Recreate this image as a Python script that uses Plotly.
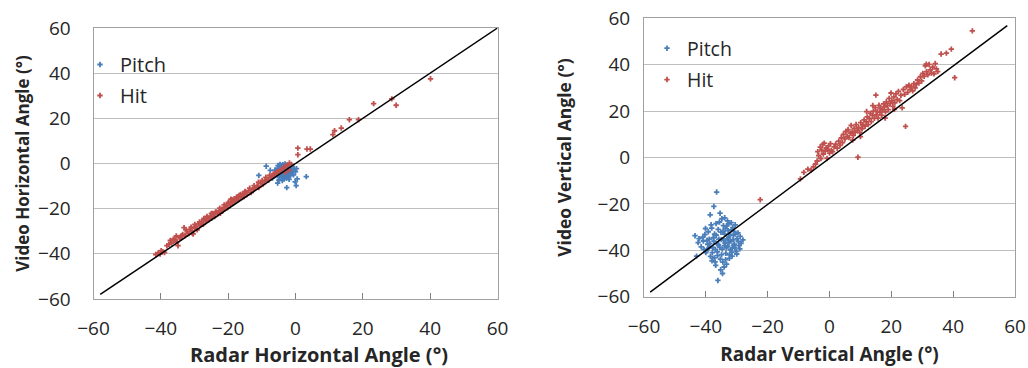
import plotly.graph_objects as go

# ---------------- Left chart: horizontal angle ----------------
H_PITCH_X = [-4.2, -3.8, -3.1, -2.6, -4.8, -5.3, -4.5, -3.9, -3.3, -2.8, -2.2, -1.7, -1.4, -2.0, -2.6,
             -3.2, -3.7, -4.3, -4.9, -5.6, -6.1, -5.8, -5.0, -4.4, -3.8, -3.1, -2.5, -1.9, -1.3, -0.8,
             -0.6, -1.5, -2.3, -3.0, -3.6, -4.1, -4.7, -5.4, -6.0, -3.4, -2.7, -1.9, -4.9, -3.9, -3.5,
             -2.9, -4.6, -5.2, -1.1, -0.4, -3.6, -2.4, -4.0, -2.1, -8.7, -10.9, -5.3, -2.6, 0.2, 3.2,
             0.5, 0.0, -6.8, -7.5, 0.3, -0.1]
H_PITCH_Y = [-1.0, -0.5, -0.2, -0.8, -1.6, -2.2, -2.6, -2.0, -1.5, -2.1, -1.7, -2.5, -3.1, -3.4, -3.0,
             -2.8, -3.3, -3.7, -3.1, -3.5, -2.9, -4.3, -4.6, -4.9, -4.2, -4.5, -4.1, -4.6, -4.2, -3.6,
             -5.0, -5.4, -5.6, -5.9, -5.3, -6.2, -5.8, -5.5, -5.1, -6.8, -6.5, -7.0, -7.3, -7.6, -0.9,
             -3.6, -0.4, -0.9, -1.3, -2.2, -2.3, -2.4, -5.0, -5.1, -1.2, -5.3, -8.7, -10.7, -9.8, -5.8,
             -6.8, -3.6, -6.4, -3.0, -2.3, -8.1]

H_HIT_X = [-41.5, -40.8, -40.2, -39.5, -38.9, -37.6, -37.2, -36.8, -36.3, -35.7, -35.2, -34.9, -34.5,
           -34.0, -33.5, -33.1, -32.8, -32.2, -31.7, -31.3, -30.8, -30.4, -30.0, -29.6, -29.2, -28.8,
           -28.3, -27.9, -27.4, -27.0, -26.6, -26.1, -25.7, -25.3, -24.9, -24.4, -24.0, -23.6, -23.1,
           -22.7, -22.3, -21.9, -21.5, -21.0, -20.6, -20.2, -19.8, -19.4, -19.0, -18.6, -18.2, -17.8,
           -17.3, -16.9, -16.5, -16.1, -15.7, -15.3, -14.9, -14.4, -13.9, -13.2, -12.6, -12.0, -11.4,
           -10.9, -10.3, -9.7, -9.1, -8.6, -8.0, -7.4, -6.9, -6.3, -5.8, -5.2, -4.6, -4.0, -3.4, -2.9,
           -2.3, -1.8, -1.2, -2.0, -3.0, 0.7, 0.7, 3.4, 4.4, 11.1, 11.6, 13.6, 16.0, 18.7, 23.2, 28.6,
           29.9, 40.1,
           -39.9, -38.2, -36.0, -35.4, -33.8, -32.5, -31.0, -29.9, -28.5, -27.2, -26.3, -25.0, -23.8,
           -22.5, -21.2, -20.0, -18.9, -17.5, -16.3, -15.0, -13.6, -12.3, -11.0, -9.9, -8.8, -7.7,
           -6.6, -5.5, -30.6, -24.6, -19.2, -16.7]
H_HIT_Y = [-40.3, -39.6, -40.1, -39.0, -39.4, -35.8, -34.1, -35.2, -33.5, -33.9, -34.6, -36.4, -32.8,
           -33.1, -31.4, -28.4, -31.9, -30.2, -31.0, -29.1, -29.8, -31.2, -28.6, -27.9, -29.4, -26.7,
           -27.5, -25.8, -26.9, -24.9, -25.6, -24.1, -24.8, -23.3, -24.2, -22.6, -23.5, -21.4, -22.3,
           -20.9, -22.0, -20.2, -20.8, -19.4, -18.7, -19.6, -17.6, -18.4, -16.9, -17.3, -15.6, -16.5,
           -14.8, -15.9, -14.2, -15.1, -13.5, -14.6, -12.6, -13.8, -12.0, -12.9, -11.3, -10.8, -9.9,
           -10.6, -8.7, -9.2, -7.8, -6.9, -7.4, -6.1, -5.5, -5.0, -4.2, -3.6, -3.1, -2.4, -1.8, -1.1,
           -0.6, 0.2, -0.4, -2.8, -3.9, 6.8, 3.9, 6.4, 6.4, 12.8, 14.5, 15.7, 19.4, 19.4, 26.5, 28.6,
           25.8, 37.5,
           -38.6, -36.4, -33.9, -32.1, -32.0, -29.4, -28.2, -27.0, -25.9, -24.3, -23.4, -22.1, -21.6,
           -19.8, -18.3, -17.2, -16.0, -14.9, -13.7, -12.4, -10.9, -9.8, -8.3, -7.5, -6.1, -5.3,
           -4.6, -3.9, -30.9, -22.1, -15.8, -14.1]

H_LINE_X = [-58, 60]
H_LINE_Y = [-58, 60]

# ---------------- Right chart: vertical angle ----------------
V_PITCH_X = [-36.5, -37.4, -38.6, -36.1, -43.5, -43.0, -28.0, -42.2, -41.5, -40.8, -40.3, -39.8, -39.4,
             -38.9, -38.5, -38.1, -37.8, -37.4, -37.0, -36.6, -36.3, -35.9, -35.6, -35.3, -35.0, -34.7,
             -34.4, -34.1, -33.8, -33.5, -33.2, -32.9, -32.6, -32.3, -32.0, -31.7, -31.4, -31.1, -30.8,
             -30.5, -30.2, -29.9, -29.6, -29.3, -28.9, -28.6, -34.8, -33.0, -31.8, -36.0, -37.2, -39.0,
             -40.0, -38.0, -36.8, -35.2, -34.5, -33.6, -32.4, -31.5, -30.0, -33.9, -32.8, -31.2, -30.4,
             -34.2, -35.5, -36.9, -37.9, -33.4, -32.1, -31.0, -34.9, -35.8, -36.4, -33.1, -32.5, -34.0,
             -29.5, -30.9, -32.2, -37.6, -38.7, -39.6, -41.0, -40.6, -42.5, -35.1, -34.3, -33.7, -36.2,
             -37.3, -33.3, -34.6, -31.6, -30.6, -29.0, -38.3, -35.4, -33.9, -32.7, -31.3, -39.2, -40.1,
             -36.7]
V_PITCH_Y = [-14.9, -21.1, -24.7, -53.0, -33.7, -42.5, -35.5, -35.0, -38.5, -36.0, -33.2, -40.2, -37.4,
             -35.2, -42.6, -30.4, -38.8, -36.1, -45.0, -33.5, -40.7, -37.6, -27.8, -43.8, -35.4, -39.5,
             -31.8, -47.2, -36.9, -41.3, -29.5, -38.2, -34.4, -42.0, -36.0, -31.2, -39.0, -33.6, -37.3,
             -29.0, -40.5, -35.0, -32.5, -38.0, -34.0, -37.0, -26.4, -27.3, -28.1, -31.0, -33.0, -39.0,
             -41.0, -44.5, -46.5, -48.4, -45.1, -44.0, -43.5, -42.5, -41.6, -33.0, -31.5, -35.5, -33.0,
             -35.7, -38.7, -39.6, -41.0, -38.8, -39.8, -37.9, -41.9, -35.2, -37.2, -35.1, -36.6, -38.0,
             -36.2, -31.8, -33.2, -34.6, -37.1, -35.7, -34.3, -39.6, -36.7, -32.2, -29.4, -30.7, -42.3,
             -43.3, -46.0, -50.0, -40.9, -38.9, -39.4, -29.0, -24.0, -26.0, -28.6, -30.2, -32.0, -30.6,
             -28.5]

V_HIT_X = [-22.4, -9.4, -6.0, -5.2, -4.5, -4.0, -3.8, -3.5, -3.0, -2.8, -2.5, -2.2, -2.0, -1.7, -1.4,
           -1.1, -0.8, -0.5, -0.3, 0.0, 0.3, 0.6, 1.0, 1.5, 2.0, 2.5, 3.0, 3.4, 3.8, 4.2, 4.5, 5.0, 5.3,
           5.7, 6.0, 6.3, 6.7, 7.0, 7.3, 7.7, 8.0, 8.3, 8.6, 9.0, 9.2, 9.4, 9.8, 10.1, 10.5, 10.8, 11.2,
           11.5, 11.9, 12.2, 12.5, 12.9, 13.2, 13.5, 13.9, 14.2, 14.5, 14.8, 15.1, 15.4, 15.7, 16.0,
           16.3, 16.6, 16.9, 17.2, 17.5, 17.8, 18.1, 18.4, 18.7, 19.0, 19.3, 19.6, 19.9, 20.2, 20.5,
           20.8, 21.1, 21.5, 21.9, 22.3, 22.7, 23.1, 23.5, 23.9, 24.3, 24.6, 24.9, 25.3, 25.7, 26.1,
           26.5, 26.9, 27.3, 27.7, 28.1, 28.5, 28.9, 29.4, 29.8, 30.2, 30.6, 31.0, 31.4, 31.8, 32.2,
           32.6, 33.0, 33.4, 33.8, 34.2, 34.6, 35.0, 36.1, 37.8, 39.4, 31.3, 40.5, 46.2, 12.0, 14.0,
           15.0, 10.0, 7.5, 18.0, 21.0, -8.3, -7.0]
V_HIT_Y = [-18.2, -9.2, -5.5, -4.0, -2.8, -1.5, 2.5, 0.8, 4.5, -0.5, 3.2, 5.6, 1.5, 6.2, 2.8, 4.1,
           -0.4, 3.5, 5.0, 1.9, 6.0, 3.0, 2.5, 4.6, 5.8, 4.0, 7.0, 5.2, 8.5, 6.4, 10.0, 8.0, 11.2, 9.1,
           12.0, 8.6, 10.5, 13.8, 11.0, 9.5, 12.5, 10.8, 14.2, 11.6, 0.1, 13.0, 10.7, 15.0, 12.4, 14.0,
           16.2, 13.5, 15.4, 17.5, 14.2, 16.8, 19.0, 15.5, 18.2, 20.0, 16.9, 21.5, 18.4, 19.9, 17.0,
           22.5, 19.5, 21.0, 18.2, 20.5, 23.1, 21.8, 19.7, 24.0, 22.4, 20.6, 25.5, 23.2, 27.8, 24.4,
           22.0, 26.1, 23.6, 27.4, 25.0, 28.5, 24.5, 26.8, 21.4, 29.3, 27.2, 13.4, 30.5, 28.1, 31.2,
           29.4, 30.6, 28.7, 31.8, 30.0, 31.5, 33.4, 32.1, 34.8, 33.0, 36.2, 35.0, 39.5, 37.0, 35.6,
           40.1, 37.8, 36.4, 38.9, 36.1, 40.5, 38.2, 37.0, 44.6, 45.0, 46.7, 40.2, 34.4, 54.6, 19.8,
           22.4, 26.9, 9.0, 7.5, 17.0, 20.8, -6.4, -5.0]

V_LINE_X = [-58, 57.5]
V_LINE_Y = [-58, 56.8]

TICKS = [-60, -40, -20, 0, 20, 40, 60]

BLUE = "#4A7EBB"
RED = "#C0504D"
FONT = "Open Sans"
TXT = "#262626"

fig = go.Figure()

def add_panel(xa, ya, px, py, hx, hy, lx, ly, legend):
    fig.add_trace(go.Scatter(x=px, y=py, mode="markers", name="Pitch", xaxis=xa, yaxis=ya,
                             legend=legend, legendgroup=legend + "p",
                             marker=dict(symbol="cross", size=4.5, color=BLUE)))
    fig.add_trace(go.Scatter(x=hx, y=hy, mode="markers", name="Hit", xaxis=xa, yaxis=ya,
                             legend=legend, legendgroup=legend + "h",
                             marker=dict(symbol="cross", size=4.5, color=RED)))
    fig.add_trace(go.Scatter(x=lx, y=ly, mode="lines", showlegend=False, xaxis=xa, yaxis=ya,
                             line=dict(color="black", width=1.5)))

add_panel("x", "y", H_PITCH_X, H_PITCH_Y, H_HIT_X, H_HIT_Y, H_LINE_X, H_LINE_Y, "legend")
add_panel("x2", "y2", V_PITCH_X, V_PITCH_Y, V_HIT_X, V_HIT_Y, V_LINE_X, V_LINE_Y, "legend2")

W, H = 1028, 368

def xaxis(domain, anchor, title, tsize, standoff, labelgap):
    return dict(domain=domain, anchor=anchor, range=[-60, 60], tickvals=TICKS, ticks="inside",
                ticklen=6, tickcolor="#808080", showline=True, linecolor="#A0A0A0", linewidth=1,
                mirror=True, showgrid=False, zeroline=False, automargin=False,
                ticklabelstandoff=labelgap,
                tickfont=dict(family=FONT, size=19, color=TXT),
                title=dict(text=title, standoff=standoff,
                           font=dict(family=FONT, size=tsize, color=TXT, weight="bold")))

def yaxis(domain, anchor, title, tsize, standoff, labelgap):
    return dict(domain=domain, anchor=anchor, range=[-60, 60], tickvals=TICKS, ticks="",
                showline=True, linecolor="#A0A0A0", linewidth=1, mirror=True,
                showgrid=True, gridcolor="#BFBFBF", gridwidth=1, zeroline=False, automargin=False,
                ticklabelstandoff=labelgap,
                tickfont=dict(family=FONT, size=19, color=TXT),
                title=dict(text=title, standoff=standoff,
                           font=dict(family=FONT, size=tsize, color=TXT, weight="bold")))

fig.update_layout(
    width=W, height=H, margin=dict(l=0, r=0, t=0, b=0),
    plot_bgcolor="white", paper_bgcolor="white", showlegend=True,
    xaxis=xaxis([93.5 / W, 497.5 / W], "y", "", 21, 11, 12),
    yaxis=yaxis([(H - 299) / H, (H - 28) / H], "x", "Video Horizontal Angle (°)", 17, 4, 18),
    xaxis2=xaxis([644 / W, 1015 / W], "y2", "Radar Vertical Angle (°)", 19, 10, 12),
    yaxis2=yaxis([(H - 296.7) / H, (H - 18.3) / H], "x2", "Video Vertical Angle (°)", 17.5, 21, 9),
    legend=dict(x=80 / W, y=(H - 45) / H, xanchor="left", yanchor="top", bgcolor="rgba(0,0,0,0)",
                font=dict(family=FONT, size=20, color=TXT), traceorder="grouped",
                tracegroupgap=2, itemwidth=30),
    legend2=dict(x=647 / W, y=(H - 29) / H, xanchor="left", yanchor="top", bgcolor="rgba(0,0,0,0)",
                 font=dict(family=FONT, size=19.5, color=TXT), traceorder="grouped",
                 tracegroupgap=3, itemwidth=30),
    annotations=[dict(text="Radar Horizontal Angle (°)", xref="paper", yref="paper",
                      x=319 / W, y=(H - 354) / H, xanchor="center", yanchor="middle",
                      showarrow=False,
                      font=dict(family=FONT, size=20, color=TXT, weight="bold"))],
)

fig.write_html("out.html")
